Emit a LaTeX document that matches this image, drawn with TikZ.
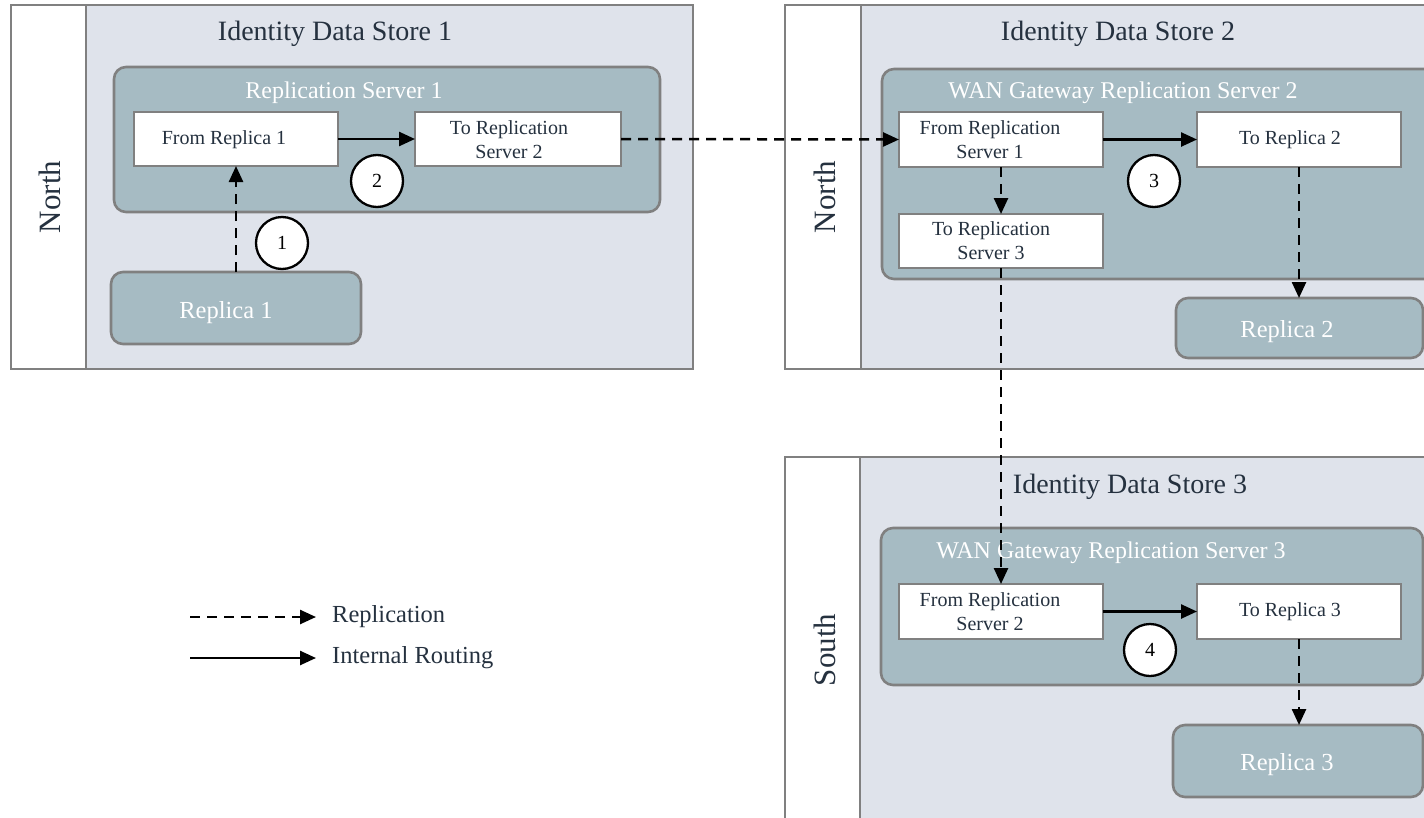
\documentclass[tikz,border=0pt]{standalone}
\usepackage{fontspec}
\setmainfont{Liberation Serif}
\usetikzlibrary{fit,arrows.meta}
\definecolor{storebg}{HTML}{DFE3EB}
\definecolor{contbg}{HTML}{A6BBC3}
\definecolor{edgegray}{HTML}{808080}
\definecolor{darktext}{HTML}{25313F}
\newcommand{\fsz}[2]{\fontsize{#1}{#2}\selectfont}
\begin{document}
\begin{tikzpicture}[x=1pt,y=-1pt,
  lanebox/.style={draw=edgegray,line width=2.6pt,fill=white,inner sep=0pt,outer sep=0pt},
  storebox/.style={draw=edgegray,line width=2.6pt,fill=storebg,inner sep=0pt,outer sep=0pt},
  contbox/.style={draw=edgegray,line width=2.6pt,fill=contbg,rounded corners=12pt,inner sep=0pt,outer sep=0pt},
  whitebox/.style={draw=edgegray,line width=2.4pt,fill=white,inner sep=0pt,outer sep=0pt},
  numcirc/.style={draw=black,line width=2.3pt,fill=white,circle,minimum size=52pt,inner sep=0pt,font=\fsz{20}{24}},
  titletext/.style={text=darktext,font=\fsz{28}{32},anchor=base,inner sep=0pt},
  subtext/.style={text=white,font=\fsz{24}{28},anchor=base,inner sep=0pt},
  boxtext/.style={text=darktext,font=\fsz{20}{24},align=center,inner sep=0pt},
  reptext/.style={text=white,font=\fsz{24.5}{28},anchor=base,inner sep=0pt},
  lanetext/.style={text=darktext,font=\fsz{31}{34},rotate=90,anchor=base,inner sep=0pt},
  legtext/.style={text=darktext,font=\fsz{24.5}{28},anchor=west,inner sep=0pt},
  repl/.style={line width=2.5pt,dash pattern=on 10pt off 7pt,-{Triangle[length=16pt,width=14pt]}},
  route/.style={line width=2.5pt,-{Triangle[length=16pt,width=14pt]}}]
\useasboundingbox (0,0) rectangle (1424,817);
\clip (0,0) rectangle (1424,817);

% ---------- Store 1 ----------
\node[lanebox,fit={(11,5) (86,369)}] (lane1) {};
\node[storebox,fit={(86,5) (693,369)}] (store1) {};
\node[lanetext] (north1) at (60,197) {North};
\node[titletext] (title1) at (335,40) {Identity Data Store 1};
\node[contbox,fit={(114,67) (660,212)}] (rs1) {};
\node[subtext] (rs1t) at (344,98) {Replication Server 1};
\node[whitebox,fit={(134,112) (338,166)}] (fromrep1) {};
\node[boxtext] at (224,140) {From Replica 1};
\node[whitebox,fit={(415,112) (621,166)}] (tors2) {};
\node[boxtext] at (509,140) {To Replication\\Server 2};
\node[contbox,fit={(111,272) (361,344)}] (replica1) {};
\node[reptext] at (226,318) {Replica 1};
\node[numcirc] (c1) at (282,243) {1};
\node[numcirc] (c2) at (377,181) {2};

% ---------- Store 2 ----------
\node[lanebox,fit={(785,5) (861,369)}] (lane2) {};
\node[storebox,fit={(861,5) (1440,369)}] (store2) {};
\node[lanetext] (north2) at (835,197) {North};
\node[titletext] (title2) at (1118,40) {Identity Data Store 2};
\node[contbox,fit={(882,69) (1440,279)}] (wan2) {};
\node[subtext] (wan2t) at (1123,98) {WAN Gateway Replication Server 2};
\node[whitebox,fit={(899,112) (1103,167)}] (fromrs1) {};
\node[boxtext] at (990,140) {From Replication\\Server 1};
\node[whitebox,fit={(1197,112) (1401,167)}] (torep2) {};
\node[boxtext] at (1290,140) {To Replica 2};
\node[whitebox,fit={(899,214) (1103,268)}] (tors3) {};
\node[boxtext] at (991,241) {To Replication\\Server 3};
\node[contbox,fit={(1176,298) (1423,358)}] (replica2) {};
\node[reptext] at (1287,337) {Replica 2};
\node[numcirc] (c3) at (1154,181) {3};

% ---------- Store 3 ----------
\node[lanebox,fit={(785,457) (860,830)}] (lane3) {};
\node[storebox,fit={(860,457) (1440,830)}] (store3) {};
\node[lanetext] (south3) at (835,650) {South};
\node[titletext] (title3) at (1130,493) {Identity Data Store 3};
\node[contbox,fit={(881,528) (1423,685)}] (wan3) {};
\node[subtext] (wan3t) at (1111,558) {WAN Gateway Replication Server 3};
\node[whitebox,fit={(899,584) (1103,639)}] (fromrs2) {};
\node[boxtext] at (990,612) {From Replication\\Server 2};
\node[whitebox,fit={(1197,584) (1401,639)}] (torep3) {};
\node[boxtext] at (1290,612) {To Replica 3};
\node[contbox,fit={(1173,725) (1423,797)}] (replica3) {};
\node[reptext] at (1287,770) {Replica 3};
\node[numcirc] (c4) at (1150,650) {4};

% ---------- Connectors ----------
\draw[repl] (replica1.north) -- (fromrep1.south);
\draw[route] (fromrep1.east) -- (tors2.west);
\draw[repl] (tors2.east) -- (fromrs1.west);
\draw[route] (fromrs1.east) -- (torep2.west);
\draw[repl] (fromrs1.south) -- (tors3.north);
\draw[repl] (torep2.south) -- (torep2.south |- replica2.north);
\draw[repl] (tors3.south) -- (fromrs2.north);
\draw[route] (fromrs2.east) -- (torep3.west);
\draw[repl] (torep3.south) -- (torep3.south |- replica3.north);

% ---------- Legend ----------
\coordinate (l1a) at (190,617);
\coordinate (l1b) at (316,617);
\coordinate (l2a) at (190,658);
\coordinate (l2b) at (316,658);
\draw[repl] (l1a) -- (l1b);
\draw[route] (l2a) -- (l2b);
\node[legtext] (leg1) at (332,617) {Replication};
\node[legtext] (leg2) at (332,658) {Internal Routing};
\end{tikzpicture}
\end{document}
